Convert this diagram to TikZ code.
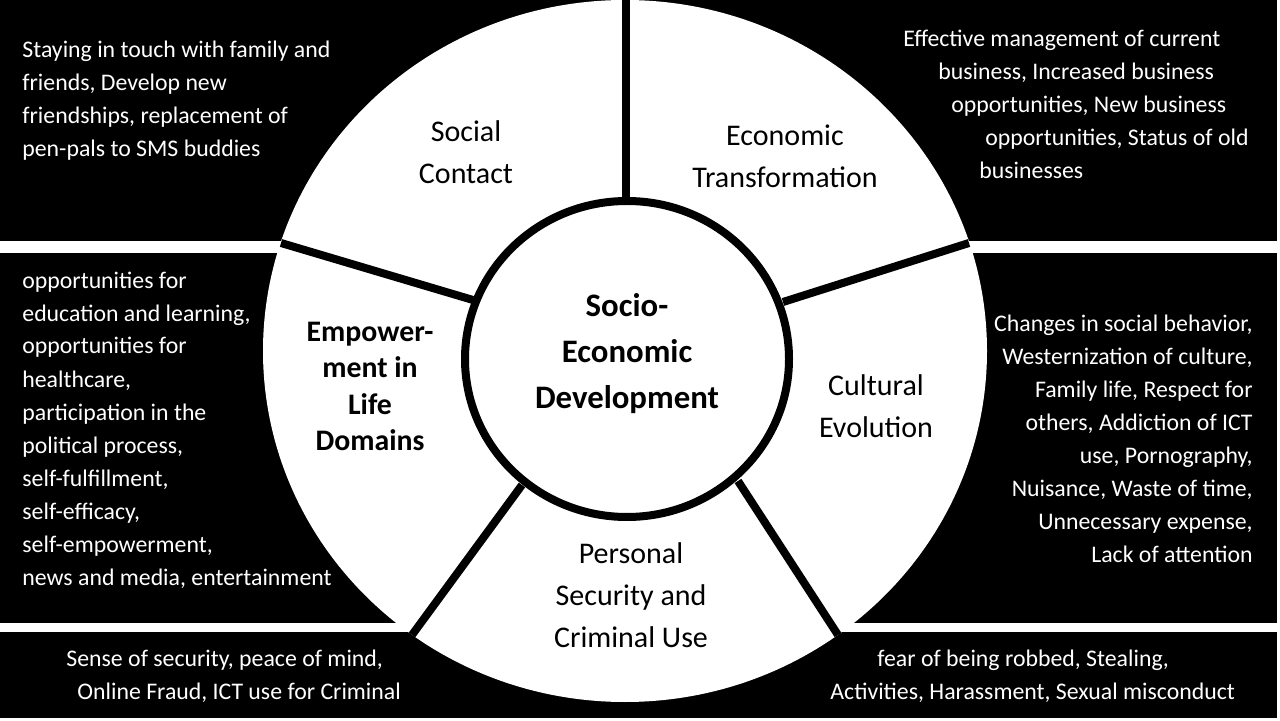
\documentclass[tikz,border=0pt]{standalone}
\usepackage{fontspec}
\setmainfont{Carlito}
\begin{document}
\begin{tikzpicture}[x=0.5pt,y=-0.5pt,
  band/.style={fill=black},
  spoke/.style={line width=4pt},
  body/.style={text=white, inner sep=0pt, font=\fontsize{11.9}{16.5}\selectfont},
  sector/.style={text=black, inner sep=0pt, align=center, font=\fontsize{15}{21}\selectfont},
  boldsector/.style={text=black, inner sep=0pt, align=center, font=\fontsize{14.9}{18.25}\selectfont\bfseries},
  hub/.style={text=black, inner sep=0pt, align=center, font=\fontsize{16.4}{23}\selectfont\bfseries}
]
\useasboundingbox (0,0) rectangle (1280,721);
\fill[white] (0,0) rectangle (1280,721);
% black panels
\fill[band] (0,0) rectangle (1277,241);
\fill[band] (0,253) rectangle (1277,622.5);
\fill[band] (0,632) rectangle (1277,718);
% outer ring
\coordinate (O) at (625,351);
\coordinate (I) at (627,359);
\fill[white] (O) ellipse [x radius=362, y radius=351];
% spoke end points
\coordinate (o1) at (626,0);
\coordinate (o2) at (969,243);
\coordinate (o3) at (838,635);
\coordinate (o4) at (412,635);
\coordinate (o5) at (281,243);
\coordinate (i1) at (626,201);
\coordinate (i2) at (783,302);
\coordinate (i3) at (738,481);
\coordinate (i4) at (522,485);
\coordinate (i5) at (473,300);
\draw[spoke] (i1) -- (o1);
\draw[spoke] (i2) -- (o2);
\draw[spoke] (i3) -- (o3);
\draw[spoke] (i4) -- (o4);
\draw[spoke] (i5) -- (o5);
% inner circle
\draw[line width=4pt, fill=white] (I) ellipse [x radius=162, y radius=158];
% (anchor=base = baseline of the last line)
\node[hub, anchor=base] (hubtext) at (627,409) {Socio-\\Economic\\Development};
% sector labels
\node[sector, anchor=base] (social) at (466,184) {Social\\Contact};
\node[sector, anchor=base] (econ) at (785,188) {Economic\\Transformation};
\node[sector, anchor=base] (cult) at (876,438) {Cultural\\Evolution};
\node[sector, anchor=base] (pers) at (631,647) {Personal\\Security and\\Criminal Use};
\node[boldsector, anchor=base] (empow) at (370,451) {Empower-\\ment in\\Life\\Domains};
% panel texts
\node[body, anchor=base west, align=left] (tl) at (22,157)
  {Staying in touch with family and\\friends, Develop new\\friendships, replacement of\\pen-pals to SMS buddies};
\node[body, anchor=base west, align=left] (tr) at (903,179)
  {Effective management of current\\\hspace*{17.5pt}business, Increased business\\\hspace*{24pt}opportunities, New business\\\hspace*{41pt}opportunities, Status of old\\\hspace*{38pt}businesses};
\node[body, anchor=base west, align=left] (ml) at (22,585)
  {opportunities for\\education and learning,\\opportunities for\\healthcare,\\participation in the\\political process,\\self-fulfillment,\\self-efficacy,\\self-empowerment,\\news and media, entertainment};
\node[body, anchor=base east, align=right] (mr) at (1253,562)
  {Changes in social behavior,\\Westernization of culture,\\Family life, Respect for\\others, Addiction of ICT\\use, Pornography,\\Nuisance, Waste of time,\\Unnecessary expense,\\Lack of attention};
\node[body, anchor=base west, align=left] (bl) at (66,699)
  {Sense of security, peace of mind,\\\hspace*{5.5pt}Online Fraud, ICT use for Criminal};
\node[body, anchor=base west, align=left] (br) at (830,699)
  {\hspace*{23.5pt}fear of being robbed, Stealing,\\Activities, Harassment, Sexual misconduct};
\end{tikzpicture}
\end{document}
